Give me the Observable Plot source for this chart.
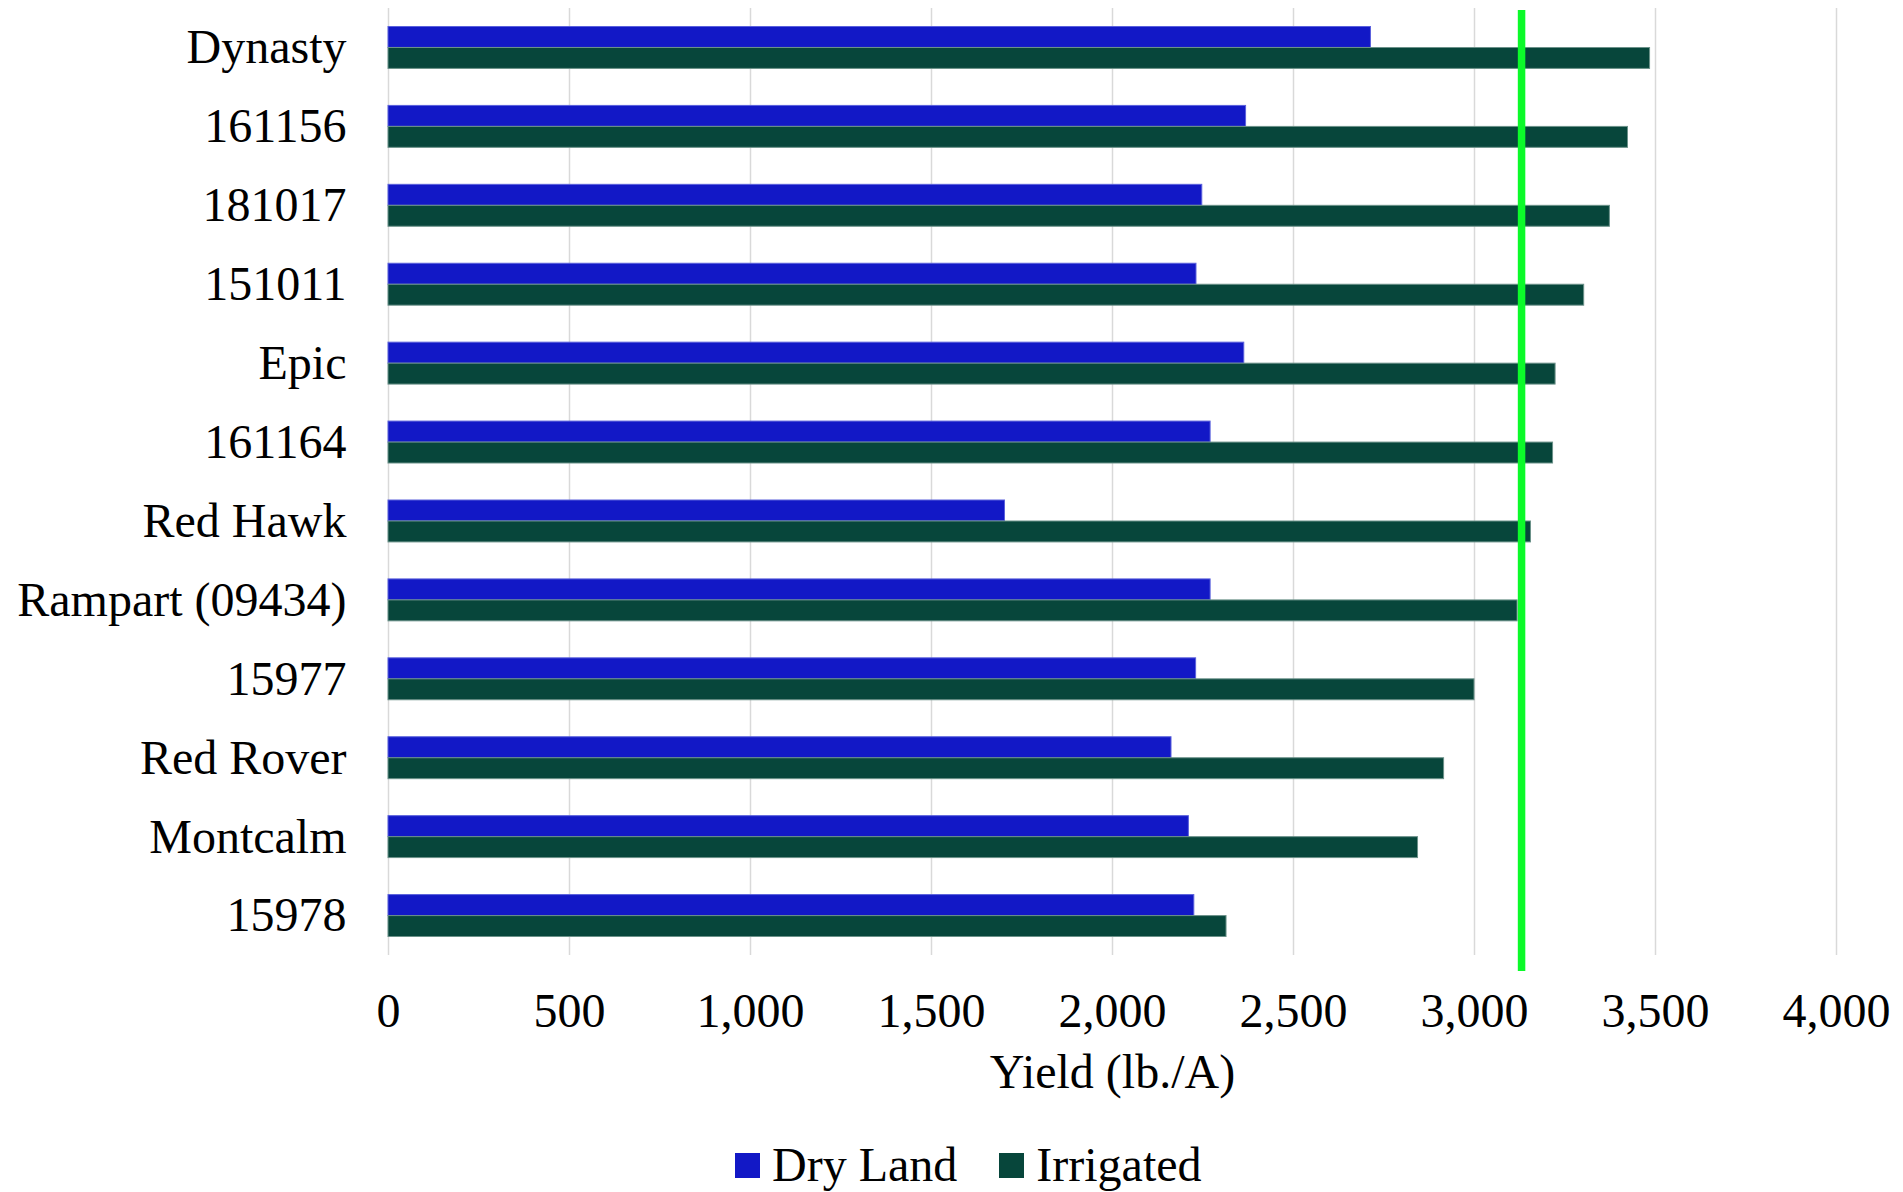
<!DOCTYPE html>
<html>
<head>
<meta charset="utf-8">
<script src="https://cdn.jsdelivr.net/npm/d3@7"></script>
<script src="https://cdn.jsdelivr.net/npm/@observablehq/plot@0.6"></script>
<style>
  html, body { margin: 0; padding: 0; background: #fff; }
  #wrap { position: relative; width: 1903px; height: 1192px; overflow: hidden; font-family: "Liberation Serif", "Times New Roman", serif; color: #000; }
  #chart svg { display: block; }
  #legend { position: absolute; left: 735px; top: 1137px; height: 56px; display: flex; align-items: center; font-size: 48px; line-height: 56px; white-space: nowrap; }
  .sw { display: inline-block; width: 25px; height: 25px; margin-right: 12px; }
  .item { display: flex; align-items: center; margin-right: 42px; }
</style>
</head>
<body>
<div id="wrap">
  <div id="chart"></div>
  <div id="legend"></div>
</div>
<script>
const categories = ["Dynasty", "161156", "181017", "151011", "Epic", "161164", "Red Hawk", "Rampart (09434)", "15977", "Red Rover", "Montcalm", "15978"];
const dryLand = [2714, 2369, 2248, 2232, 2364, 2271, 1703, 2271, 2231, 2163, 2211, 2226];
const irrigated = [3485, 3424, 3374, 3303, 3224, 3217, 3156, 3119, 3000, 2916, 2844, 2315];
const xTicks = [0, 500, 1000, 1500, 2000, 2500, 3000, 3500, 4000];
const referenceLine = [3130];
const seriesNames = ["Dry Land", "Irrigated"];
const seriesColors = ["#1218c6", "#07463b"];

const rows = categories.map((c, i) => ({category: c, dry: dryLand[i], irr: irrigated[i]}));
const fmt = d3.format(",");

const chart = Plot.plot({
  width: 1903,
  height: 1130,
  marginLeft: 388,
  marginRight: 67,
  marginTop: 8,
  marginBottom: 175,
  style: {fontFamily: "'Liberation Serif', 'Times New Roman', serif", color: "#000", background: "#fff"},
  x: {domain: [0, 4000]},
  y: {domain: categories, padding: 0, round: false, label: null},
  marks: [
    Plot.gridX(xTicks, {stroke: "#d9d9d9", strokeOpacity: 1, strokeWidth: 1.5}),
    Plot.barX(rows, {x: "dry", y: "category", fill: seriesColors[0], stroke: "#5a60dc", strokeWidth: 1, insetTop: 18.5, insetBottom: 39.5}),
    Plot.barX(rows, {x: "irr", y: "category", fill: seriesColors[1], stroke: "#6b9189", strokeWidth: 1, insetTop: 39.5, insetBottom: 18.5}),
    Plot.ruleX(referenceLine, {stroke: "#0cfa2a", strokeWidth: 7.5, insetTop: 2, insetBottom: -16}),
    Plot.axisY({tickSize: 0, tickPadding: 42, fontSize: 48, label: null}),
    Plot.axisX(xTicks, {tickSize: 0, tickPadding: 37, fontSize: 48, tickFormat: fmt, label: "Yield (lb./A)", labelAnchor: "center", labelOffset: 132, labelArrow: "none"})
  ]
});
document.getElementById("chart").appendChild(chart);

const legend = document.getElementById("legend");
seriesNames.forEach((name, i) => {
  const item = document.createElement("span");
  item.className = "item";
  const sw = document.createElement("span");
  sw.className = "sw";
  sw.style.background = seriesColors[i];
  item.appendChild(sw);
  item.appendChild(document.createTextNode(name));
  legend.appendChild(item);
});
</script>
</body>
</html>
